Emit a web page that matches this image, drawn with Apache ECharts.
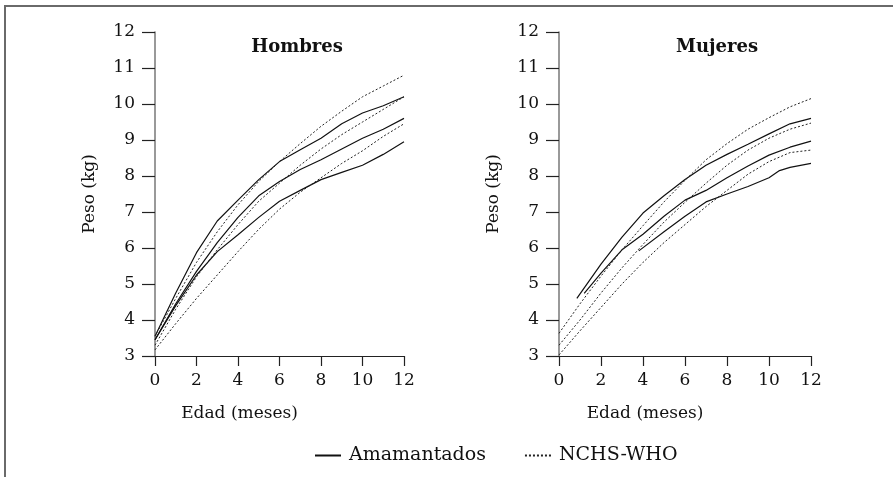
<!DOCTYPE html>
<html>
<head>
<meta charset="utf-8">
<script src="https://cdn.jsdelivr.net/npm/echarts@6/dist/echarts.min.js"></script>
<style>
html,body{margin:0;padding:0;background:#fff;}
#chart{position:absolute;left:0;top:0;width:893px;height:477px;}
#frame{position:absolute;left:4px;top:5px;width:900px;height:480px;border-left:2px solid #6a6a6a;border-top:2px solid #6a6a6a;}
</style>
</head>
<body>
<div id="frame"></div>
<div id="chart"></div>
<script>
// ---- data ----
const yTicks = [3, 4, 5, 6, 7, 8, 9, 10, 11, 12];
const xTicks = [0, 2, 4, 6, 8, 10, 12];
const months = [0, 1, 2, 3, 4, 5, 6, 7, 8, 9, 10, 11, 12];

// Hombres
const hombresAmamAlto  = [3.55, 4.75, 5.87, 6.75, 7.33, 7.9, 8.4, 8.73, 9.05, 9.45, 9.75, 9.95, 10.2];
const hombresAmamMedio = [3.45, 4.45, 5.35, 6.15, 6.85, 7.45, 7.85, 8.18, 8.45, 8.75, 9.05, 9.3, 9.6];
const hombresAmamBajo  = [3.45, 4.4, 5.25, 5.9, 6.37, 6.85, 7.3, 7.6, 7.9, 8.1, 8.3, 8.6, 8.95];
const hombresNchsAlto  = [3.55, 4.6, 5.6, 6.45, 7.2, 7.85, 8.4, 8.9, 9.38, 9.8, 10.2, 10.5, 10.8];
const hombresNchsMedio = [3.3, 4.3, 5.2, 5.95, 6.65, 7.3, 7.8, 8.3, 8.75, 9.15, 9.5, 9.85, 10.2];
const hombresNchsBajo  = [3.17, 3.9, 4.6, 5.25, 5.9, 6.52, 7.08, 7.55, 7.95, 8.35, 8.7, 9.1, 9.45];

// Mujeres
const mujeresAmamAltoMeses  = [0.85, 2, 3, 4, 5, 6, 7, 8, 9, 10, 11, 12];
const mujeresAmamAlto       = [4.6, 5.55, 6.3, 6.97, 7.45, 7.9, 8.3, 8.6, 8.88, 9.17, 9.45, 9.6];
const mujeresAmamMedioMeses = [1.2, 2, 3, 4, 5, 6, 7, 8, 9, 10, 11, 12];
const mujeresAmamMedio      = [4.74, 5.3, 5.95, 6.38, 6.88, 7.33, 7.6, 7.95, 8.28, 8.58, 8.8, 8.97];
const mujeresAmamBajoMeses  = [3.8, 5, 6, 7, 8, 9, 10, 10.5, 11, 12];
const mujeresAmamBajo       = [5.92, 6.45, 6.88, 7.28, 7.5, 7.71, 7.95, 8.15, 8.24, 8.35];
const mujeresNchsAlto  = [3.63, 4.45, 5.22, 5.95, 6.62, 7.28, 7.88, 8.45, 8.9, 9.3, 9.62, 9.92, 10.15];
const mujeresNchsMedio = [3.3, 4.0, 4.75, 5.45, 6.1, 6.72, 7.27, 7.8, 8.3, 8.72, 9.05, 9.3, 9.47];
const mujeresNchsBajo  = [3.03, 3.7, 4.35, 5.0, 5.6, 6.15, 6.65, 7.15, 7.6, 8.05, 8.4, 8.65, 8.72];

const titles = ['Hombres', 'Mujeres'];
const legendNames = ['Amamantados', 'NCHS-WHO'];
const xName = 'Edad (meses)';
const yName = 'Peso (kg)';

// ---- build ----
const FONT = 'DejaVu Serif';
const zip = (xs, ys) => xs.map((x, i) => [x, ys[i]]);

function lineSeries(name, data, gi, dotted) {
  return {
    type: 'line', name: name, xAxisIndex: gi, yAxisIndex: gi,
    data: data, symbol: 'none', smooth: false, silent: true,
    itemStyle: { color: '#111' },
    lineStyle: dotted ? { color: '#222', width: 1, type: [2, 2] } : { color: '#111', width: 1.2, type: 'solid' }
  };
}

function xAxis(gi) {
  return {
    gridIndex: gi, type: 'value', min: xTicks[0], max: xTicks[xTicks.length - 1], interval: 2,
    name: xName, nameLocation: 'middle', nameGap: 49,
    nameTextStyle: { fontFamily: FONT, fontSize: 17, color: '#111', padding: [0, 80, 0, 0] },
    axisLine: { lineStyle: { color: '#222', width: 1.2 } },
    axisTick: { show: true, length: 10, lineStyle: { color: '#222', width: 1.2 } },
    axisLabel: { fontFamily: FONT, fontSize: 17, color: '#111', margin: 16 },
    splitLine: { show: false }
  };
}
function yAxis(gi) {
  return {
    gridIndex: gi, type: 'value', min: yTicks[0], max: yTicks[yTicks.length - 1], interval: 1,
    name: yName, nameLocation: 'middle', nameGap: 57, nameRotate: 90,
    nameTextStyle: { fontFamily: FONT, fontSize: 17, color: '#111' },
    axisLine: { show: true, lineStyle: { color: '#777', width: 1.5 } },
    axisTick: { show: true, length: 13, lineStyle: { color: '#222', width: 1.2 } },
    axisLabel: { fontFamily: FONT, fontSize: 17, color: '#111', margin: 20 },
    splitLine: { show: false }
  };
}

const option = {
  animation: false,
  backgroundColor: 'transparent',
  textStyle: { fontFamily: FONT },
  title: [
    { text: titles[0], left: 292, top: 33, textAlign: 'center',
      textStyle: { fontFamily: FONT, fontSize: 18, fontWeight: 'bold', color: '#111' } },
    { text: titles[1], left: 712, top: 33, textAlign: 'center',
      textStyle: { fontFamily: FONT, fontSize: 18, fontWeight: 'bold', color: '#111' } }
  ],
  legend: {
    data: legendNames, left: 309, top: 441, itemWidth: 26, itemHeight: 12, itemGap: 38,
    itemStyle: { opacity: 0 },
    textStyle: { fontFamily: FONT, fontSize: 19, color: '#111', padding: [0, 0, 0, 3] }, selectedMode: false
  },
  grid: [
    { left: 155, top: 32, width: 249, height: 324 },
    { left: 559, top: 32, width: 252, height: 324 }
  ],
  xAxis: [xAxis(0), xAxis(1)],
  yAxis: [yAxis(0), yAxis(1)],
  series: [
    lineSeries(legendNames[0], zip(months, hombresAmamAlto), 0, false),
    lineSeries(legendNames[0], zip(months, hombresAmamMedio), 0, false),
    lineSeries(legendNames[0], zip(months, hombresAmamBajo), 0, false),
    lineSeries(legendNames[1], zip(months, hombresNchsAlto), 0, true),
    lineSeries(legendNames[1], zip(months, hombresNchsMedio), 0, true),
    lineSeries(legendNames[1], zip(months, hombresNchsBajo), 0, true),
    lineSeries(legendNames[0], zip(mujeresAmamAltoMeses, mujeresAmamAlto), 1, false),
    lineSeries(legendNames[0], zip(mujeresAmamMedioMeses, mujeresAmamMedio), 1, false),
    lineSeries(legendNames[0], zip(mujeresAmamBajoMeses, mujeresAmamBajo), 1, false),
    lineSeries(legendNames[1], zip(months, mujeresNchsAlto), 1, true),
    lineSeries(legendNames[1], zip(months, mujeresNchsMedio), 1, true),
    lineSeries(legendNames[1], zip(months, mujeresNchsBajo), 1, true)
  ]
};

const chart = echarts.init(document.getElementById('chart'), null, { renderer: 'canvas' });
chart.setOption(option);
</script>
</body>
</html>
